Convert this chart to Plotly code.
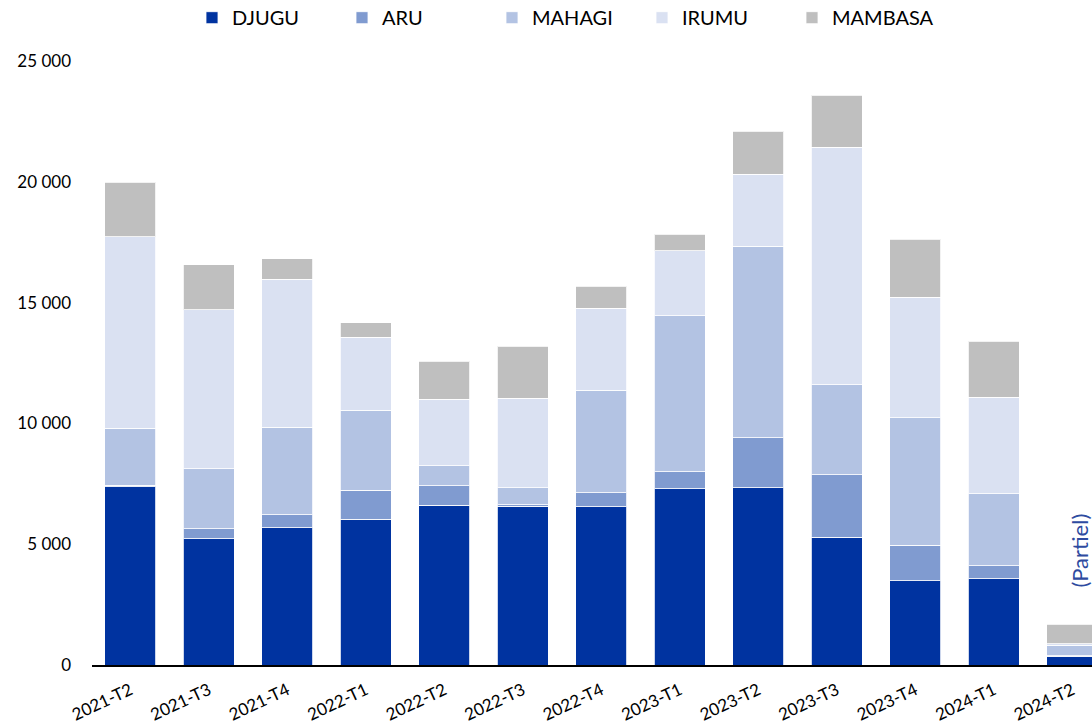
import plotly.graph_objects as go

quarters = ['2021-T2', '2021-T3', '2021-T4', '2022-T1', '2022-T2', '2022-T3', '2022-T4',
            '2023-T1', '2023-T2', '2023-T3', '2023-T4', '2024-T1', '2024-T2']

djugu = [7370, 5230, 5680, 6030, 6620, 6580, 6540, 7290, 7340, 5280, 3490, 3570, 370]
aru = [80, 410, 530, 1200, 800, 50, 590, 710, 2060, 2600, 1460, 540, 20]
mahagi = [2340, 2490, 3640, 3310, 820, 700, 4250, 6450, 7940, 3720, 5290, 2980, 420]
irumu = [7940, 6580, 6110, 3020, 2770, 3720, 3380, 2690, 2980, 9830, 4980, 4000, 70]
mambasa = [2260, 1860, 860, 600, 1560, 2150, 910, 680, 1770, 2150, 2410, 2320, 800]

series = [
    ('DJUGU', djugu, '#0033a0'),
    ('ARU', aru, '#809bd0'),
    ('MAHAGI', mahagi, '#b3c3e3'),
    ('IRUMU', irumu, '#dae1f2'),
    ('MAMBASA', mambasa, '#bfbfbf'),
]

fig = go.Figure()
for name, vals, color in series:
    fig.add_bar(x=quarters, y=vals, name=name,
                marker=dict(color=color, line=dict(color='rgba(255,255,255,0.8)', width=1)))

# "(Partiel)" note next to the last (incomplete) quarter
fig.add_annotation(x='2024-T2', y=4750, text='(Partiel)', textangle=-90, showarrow=False,
                   xshift=7, font=dict(size=22, color='#2e4ba0'))

fig.update_layout(
    barmode='stack', bargap=0.35,
    width=1092, height=725,
    margin=dict(l=92, r=0, t=61, b=60, autoexpand=False),
    plot_bgcolor='white', paper_bgcolor='white',
    font=dict(family='Lato', size=17, color='black'),
    legend=dict(orientation='h', x=0.475, xanchor='center', y=1.104, yanchor='top',
                entrywidth=105, font=dict(size=20), traceorder='normal'),
)
fig.update_xaxes(range=[-0.49, 12.25], showline=True, linecolor='black', linewidth=2,
                 tickangle=-25, tickfont=dict(size=17), ticklabelstandoff=7,
                 showgrid=False, automargin=False)
fig.update_yaxes(range=[0, 25000], tickvals=[0, 5000, 10000, 15000, 20000, 25000],
                 ticktext=['0', '5 000', '10 000', '15 000', '20 000', '25 000'],
                 showgrid=False, zeroline=False, ticklabelstandoff=20, automargin=False)

# drop the default page margin so the figure fills the window exactly
fig.write_html('out.html', config={'displayModeBar': False},
               post_script="document.body.style.margin='0';document.body.style.overflow='hidden';")
